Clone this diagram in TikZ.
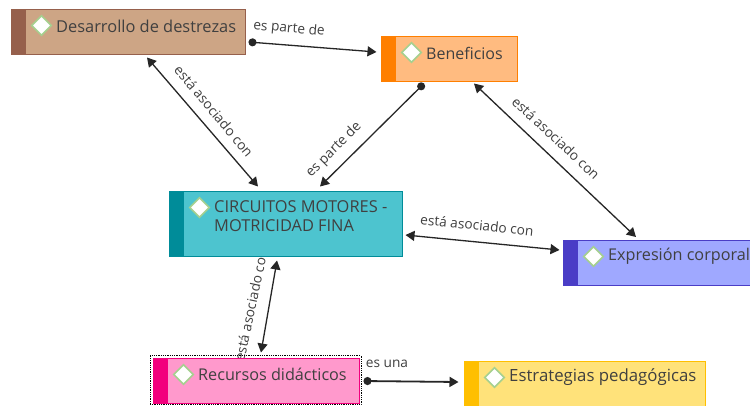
\documentclass[tikz,border=0pt]{standalone}
\usepackage{fontspec}
\setmainfont{Open Sans}
\usetikzlibrary{arrows.meta,shapes.geometric}
\definecolor{txt}{HTML}{404040}
\definecolor{icongreen}{HTML}{A5D08F}
\newcommand{\fs}[1]{\fontsize{#1pt}{19pt}\selectfont}
\tikzset{
  box/.style={draw=#1,line width=1pt,inner sep=0pt},
  strip/.style={fill=#1,draw=none,inner sep=0pt,minimum width=15pt,anchor=north west},
  icon/.style={diamond,draw=icongreen,fill=white,line width=1.6pt,minimum width=20pt,minimum height=20pt,inner sep=0pt},
  boxtext/.style={font=\fs{16},text=txt,anchor=west,inner sep=0pt,align=left},
  lnk/.style={font=\fontsize{13.7pt}{15pt}\selectfont,text=txt,inner sep=0pt},
  conn/.style={draw=black!85,line width=1.3pt},
  both/.style={conn,{Triangle[length=9pt,width=10pt]}-{Triangle[length=9pt,width=10pt]}},
  dotted arrow/.style={conn,{Circle[length=8pt]}-{Triangle[length=9pt,width=10pt]}},
}
% name, centre x, centre y, width, height, dark, light, text y offset, text
\newcommand{\conceptbox}[9]{%
  \definecolor{#1dark}{HTML}{#6}\definecolor{#1light}{HTML}{#7}%
  \node[box=#1dark,fill=#1light,minimum width=#4pt,minimum height=#5pt] (#1) at (#2,#3) {};
  \node[strip=#1dark,minimum height=#5pt] (#1s) at (#1.north west) {};
  \node[icon] (#1i) at ([xshift=31pt,yshift=-17pt]#1.north west) {};
  \node[boxtext] (#1t) at ([xshift=45.5pt,yshift=-#8pt]#1.north west) {#9};
}
\begin{document}
\begin{tikzpicture}[x=1pt,y=-1pt]
\useasboundingbox (0,0) rectangle (750,405);
\clip (0,0) rectangle (750,405);
\fill[white] (0,0) rectangle (750,405);

% labels lying under the boxes
\node[lnk,rotate=78] (l6) at (251,305) {está asociado con};

\conceptbox{des}{128}{31.5}{234}{45}{96604C}{CDA585}{17.5}{\fs{16.4}Desarrollo de destrezas}
\conceptbox{ben}{449}{58.5}{136}{45}{FF7F00}{FFBB80}{17.5}{Beneficios}
\conceptbox{cir}{285.5}{223.5}{233}{65}{008C99}{4DC4CF}{25.5}{\fs{16.4}CIRCUITOS MOTORES -\\\fs{16.4}MOTRICIDAD FINA}
\conceptbox{exp}{666.5}{262.5}{207}{45}{4A3DC6}{9FA8FF}{17}{\fs{16.2}Expresión corporal}
\node[draw=black,densely dotted,line width=.8pt,minimum width=211pt,minimum height=49pt,inner sep=0pt] (sel) at (255.5,380) {};
\conceptbox{rec}{256}{380.5}{206}{45}{F2007D}{FF99CC}{17}{\fs{16.2}Recursos didácticos}
\conceptbox{est}{584.5}{383.5}{241}{45}{FFBF00}{FFE27A}{17}{\fs{16.8}Estrategias pedagógicas}

% connectors
\draw[dotted arrow] ([xshift=3pt,yshift=-10.5pt]des.east) -- ([xshift=-4pt,yshift=6.5pt]ben.west);
\draw[dotted arrow] ([xshift=-25pt,yshift=-2pt]ben.south) -- ([xshift=34.5pt,yshift=4pt]cir.north);
\draw[both] ([xshift=19pt,yshift=-3pt]des.south) -- ([xshift=-27.5pt,yshift=4pt]cir.north);
\draw[both] ([xshift=25pt,yshift=-2pt]ben.south) -- ([xshift=-30.5pt,yshift=2.5pt]exp.north);
\draw[both] ([xshift=3pt,yshift=-11.5pt]cir.east) -- ([xshift=-3pt,yshift=12.5pt]exp.west);
\draw[both] ([xshift=-8.5pt,yshift=-4pt]cir.south) -- ([xshift=5pt,yshift=5pt]rec.north);
\draw[dotted arrow,line width=1.8pt] ([xshift=4pt,yshift=-.5pt]rec.east) -- ([xshift=-5pt,yshift=1.5pt]est.west);

% connector labels
\node[lnk,rotate=-5] (l1) at (289,29) {es parte de};
\node[lnk,rotate=-50] (l2) at (214,111) {está asociado con};
\node[lnk,rotate=45] (l3) at (334,150) {es parte de};
\node[lnk,rotate=-43] (l4) at (556,138) {está asociado con};
\node[lnk,rotate=-6] (l5) at (477,225) {está asociado con};
\node[lnk] (l7) at (387,364) {es una};
\end{tikzpicture}
\end{document}
